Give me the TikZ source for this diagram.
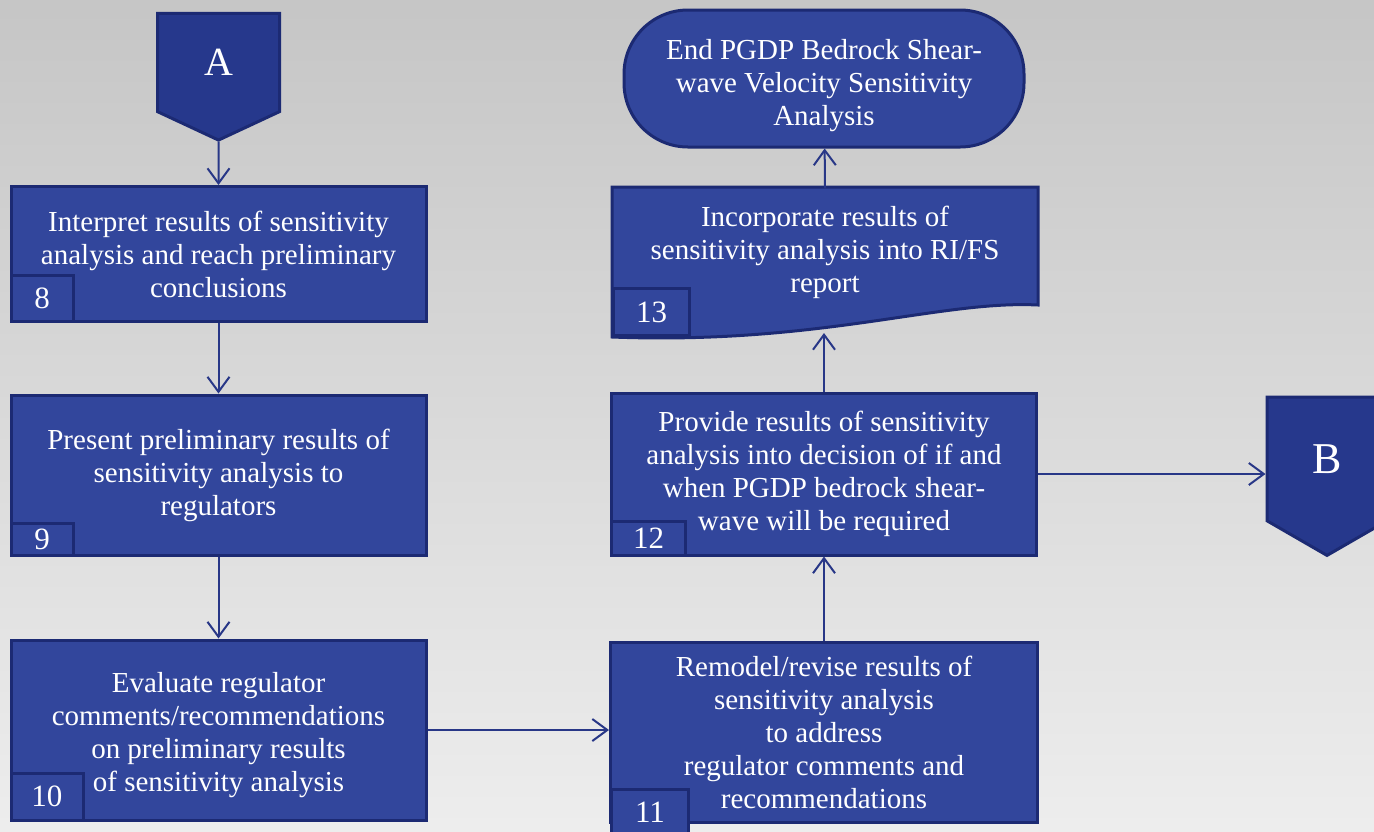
\documentclass[tikz,border=0pt]{standalone}
\usepackage{fontspec}
\setmainfont{Liberation Serif}
\usetikzlibrary{arrows.meta,positioning,shapes.symbols}
\definecolor{boxblue}{RGB}{50,70,156}
\definecolor{boxedge}{RGB}{28,42,115}
\definecolor{connblue}{RGB}{38,56,140}
\definecolor{linkblue}{RGB}{40,55,135}

\begin{document}
\begin{tikzpicture}[
  x=0.5pt, y=-0.5pt,
  >={Straight Barb[length=7.5pt,width=11pt]},
  box/.style={draw=boxedge, line width=1.5pt, fill=boxblue, text=white, align=center,
    font=\fontsize{14.5}{16.5}\selectfont, inner sep=2pt},
  tab/.style={draw=boxedge, line width=1.5pt, fill=boxblue, text=white, anchor=south west,
    font=\fontsize{15.5}{17}\selectfont, inner sep=0pt, minimum width=31pt, minimum height=23pt},
  conn/.style={shape=signal, signal to=south, draw=boxedge, line width=1.5pt, fill=connblue,
    text=white, inner sep=0pt},
  link/.style={->, draw=linkblue, line width=1pt}
]
\useasboundingbox (0,0) rectangle (1374,831);
\clip (0,0) rectangle (1374,831);
\shade[top color=gray!45, bottom color=gray!14] (0,0) rectangle (1374,831);

% left column
\node[conn, minimum width=61pt, minimum height=52.5pt, signal pointer angle=130,
  font=\fontsize{20}{24}\selectfont] (A) at (218.5,62.5) {A};
\node[box, minimum width=207.5pt, minimum height=67.5pt] (b8) at (218.5,254)
  {Interpret results of sensitivity\\ analysis and reach preliminary\\ conclusions};
\node[tab] (t8) at (b8.south west) {8};
\node[box, minimum width=207.5pt, minimum height=80pt] (b9) at (218.5,475)
  {Present preliminary results of\\ sensitivity analysis to\\ regulators};
\node[tab, minimum height=16pt] (t9) at (b9.south west) {9};
\node[box, minimum width=207.5pt, minimum height=90pt] (b10) at (218.5,730)
  {\rule{0pt}{15pt}Evaluate regulator\\ comments/recommendations\\ on preliminary results\\ of sensitivity analysis};
\node[tab, minimum width=36pt, minimum height=23.5pt] (t10) at (b10.south west) {10};

% right column
\node[box, minimum width=213.5pt, minimum height=90pt] (b11) at (824,732)
  {Remodel/revise results of\\ sensitivity analysis\\ to address\\ regulator comments and\\ recommendations};
\node[tab, anchor=north west, minimum width=38.5pt, minimum height=23pt] (t11) at (610,788) {11};
\node[box, minimum width=212.5pt, minimum height=81pt] (b12) at (824,474)
  {Provide results of sensitivity\\ analysis into decision of if and\\ when PGDP bedrock shear-\\ wave will be required};
\node[tab, minimum width=37pt, minimum height=17pt] (t12) at (b12.south west) {12};
\filldraw[draw=boxedge, line width=1.5pt, fill=boxblue]
  (612,187) -- (1038,187) -- (1038,305) .. controls (940,300) and (820,345) .. (612,337) -- cycle;
\node[tab, minimum width=38pt, minimum height=23.5pt] (t13) at (612,337) {13};
\node[align=center, text=white, font=\fontsize{14.5}{16.5}\selectfont,
  minimum width=213pt, minimum height=63pt] (b13) at (825,252)
  {Incorporate results of\\ sensitivity analysis into RI/FS\\ report};
\coordinate (b13s) at (824,333);
\node[box, rounded corners=32pt, minimum width=200pt, minimum height=68.5pt] (end) at (824,78.5)
  {\rule{0pt}{17pt}End PGDP Bedrock Shear-\\ wave Velocity Sensitivity\\ Analysis};
\node[conn, minimum width=60pt, minimum height=66pt, signal pointer angle=120,
  font=\fontsize{22}{26}\selectfont] (B) at (1327,459) {B};

% connectors
\draw[link] (A) -- (b8);
\draw[link] (b8) -- (b9);
\draw[link] (b9) -- (b10);
\draw[link] (b10.east) -- (b10.east -| b11.west);
\draw[link] (b11) -- (b12);
\draw[link] (b12) -- (b13s);
\draw[link] (b13.north) -- (end);
\draw[link] (b12.east) -- (b12.east -| B.west);
\end{tikzpicture}
\end{document}
